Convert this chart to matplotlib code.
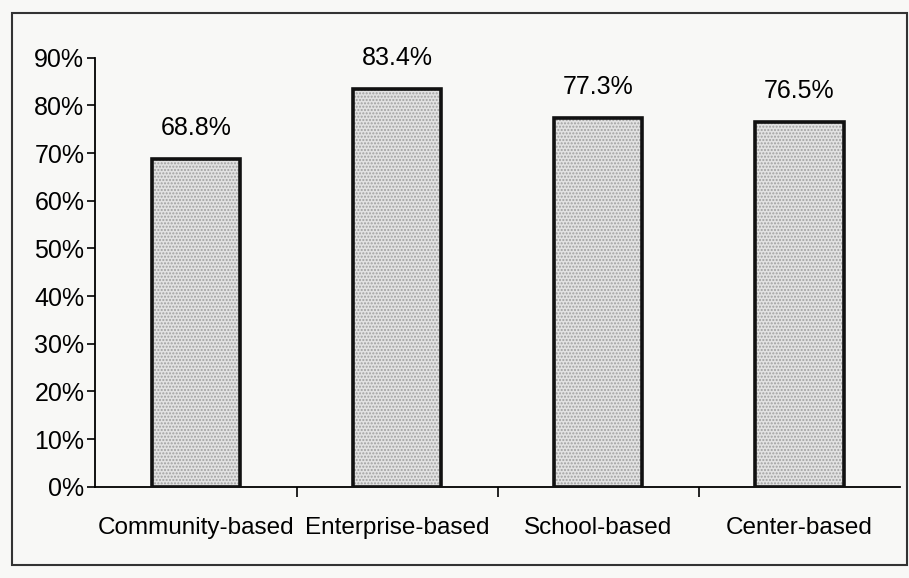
import numpy as np
import matplotlib.pyplot as plt

categories = ['Community-based', 'Enterprise-based', 'School-based', 'Center-based']
values = [68.8, 83.4, 77.3, 76.5]
yticks = [0, 10, 20, 30, 40, 50, 60, 70, 80, 90]

plt.rcParams['font.family'] = ['Liberation Sans', 'DejaVu Sans']

fig = plt.figure(figsize=(9.09, 5.78), dpi=100, facecolor='#f8f8f6')
ax = fig.add_axes([0.105, 0.158, 0.885, 0.742])
ax.set_facecolor('#f8f8f6')

x = np.arange(len(categories))
# speckled grey fill, then black outline on top
ax.bar(x, values, width=0.44, color='#e2e2e2', edgecolor='#a0a0a0', hatch='.....', linewidth=0, zorder=2)
ax.bar(x, values, width=0.44, fill=False, edgecolor='#111111', linewidth=2.6, zorder=3)

for xi, v in zip(x, values):
    ax.text(xi, v + 4, f'{v}%', ha='center', va='bottom', fontsize=18)

ax.set_xlim(-0.5, 3.5)
ax.set_ylim(0, 90)
ax.set_yticks(yticks)
ax.set_yticklabels([f'{t}%' for t in yticks], fontsize=18)
ax.set_xticks(x)
ax.set_xticklabels(categories, fontsize=17.5)
ax.set_xticks([0.5, 1.5, 2.5], minor=True)
ax.tick_params(axis='x', which='major', length=0, pad=22)
ax.tick_params(axis='x', which='minor', length=7, width=1.2)
ax.tick_params(axis='y', length=6, width=1.2, pad=2)

ax.spines['top'].set_visible(False)
ax.spines['right'].set_visible(False)
ax.spines['left'].set_linewidth(1.3)
ax.spines['bottom'].set_linewidth(1.3)

# outer frame of the chart area
fig.patches.append(plt.Rectangle((0.013, 0.022), 0.985, 0.955, transform=fig.transFigure,
                                 fill=False, edgecolor='#333333', linewidth=1.5))

fig.savefig('out.png', dpi=100, facecolor=fig.get_facecolor())
